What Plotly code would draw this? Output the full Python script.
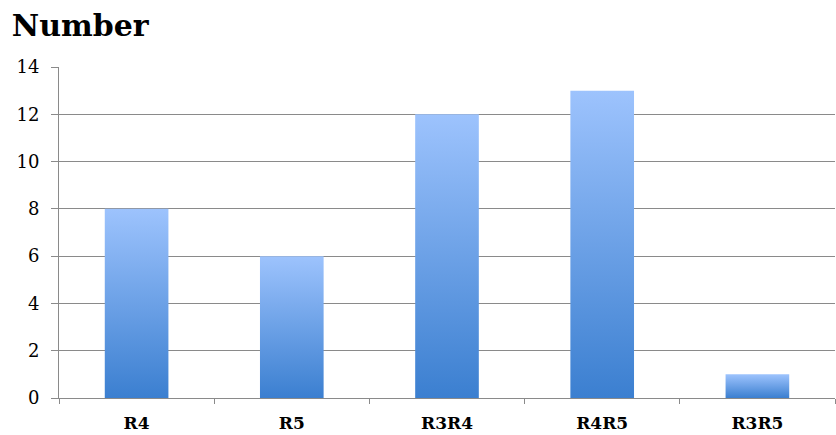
import plotly.graph_objects as go

categories = ["R4", "R5", "R3R4", "R4R5", "R3R5"]
values = [8, 6, 12, 13, 1]
y_ticks = [0, 2, 4, 6, 8, 10, 12, 14]

BAR_W = 0.41
LIGHT = "#9dc3fd"
DARK = "#3b7fd0"
GRID = "#8a8a8a"

fig = go.Figure()
for i, (c, v) in enumerate(zip(categories, values)):
    xc = i + 0.5
    x0, x1 = xc - BAR_W / 2, xc + BAR_W / 2
    fig.add_trace(go.Scatter(
        x=[x0, x1, x1, x0, x0], y=[0, 0, v, v, 0],
        mode="lines", line=dict(width=0), fill="toself",
        fillgradient=dict(type="vertical", start=0, stop=v,
                          colorscale=[[0, DARK], [1, LIGHT]]),
        hoverinfo="text", text=f"{c}: {v}", showlegend=False,
    ))

fig.update_layout(
    width=836, height=435,
    margin=dict(l=59, r=1, t=67, b=37),
    paper_bgcolor="white", plot_bgcolor="white",
    title=dict(text="<b>Number</b>", x=0.014, xanchor="left", y=0.965, yanchor="top",
               font=dict(family="DejaVu Serif", size=30, color="black")),
    font=dict(family="DejaVu Serif", color="black"),
    showlegend=False,
)
fig.update_xaxes(
    range=[0, 5], tickvals=[i + 0.5 for i in range(len(categories))],
    ticktext=[f"<b>{c}</b>" for c in categories],
    ticks="", showgrid=False, zeroline=False, showline=True, linecolor=GRID, linewidth=1,
    tickfont=dict(family="DejaVu Serif", size=17, color="black"),
    ticklabelstandoff=10,
    minor=dict(tick0=0, dtick=1, ticks="outside", ticklen=5, tickcolor=GRID, showgrid=False),
    fixedrange=True,
)
fig.update_yaxes(
    range=[0, 14], tickvals=y_ticks, ticks="outside", ticklen=7, tickcolor=GRID,
    showgrid=True, gridcolor=GRID, gridwidth=1, zeroline=False,
    showline=True, linecolor=GRID, linewidth=1,
    tickfont=dict(family="DejaVu Serif", size=18, color="black"),
    ticklabelstandoff=8, fixedrange=True,
)
fig.write_html("out.html")
